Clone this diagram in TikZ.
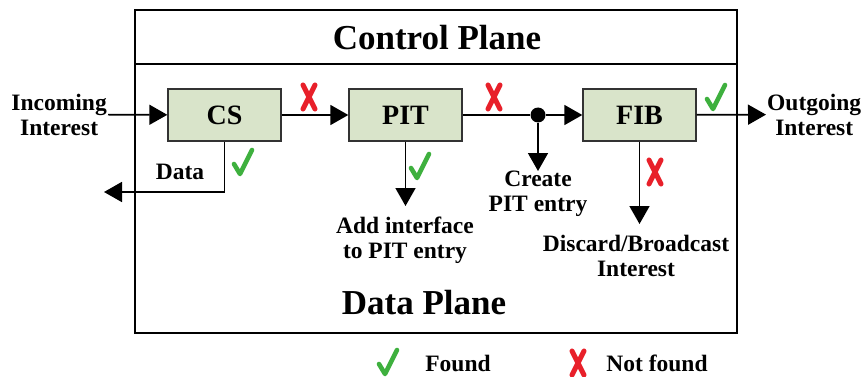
\documentclass[tikz,border=0pt]{standalone}
\usepackage{fontspec}
\setmainfont{Liberation Serif}
\usetikzlibrary{arrows.meta}
\definecolor{boxgreen}{RGB}{217,228,202}
\definecolor{okgreen}{RGB}{62,176,62}
\definecolor{nored}{RGB}{232,32,42}
\tikzset{
  table/.style={draw=black!80, line width=1.4pt, fill=boxgreen, minimum width=113pt, minimum height=52pt, inner sep=0pt, font=\fontsize{28}{30}\selectfont\bfseries},
  lbl/.style={align=center, inner sep=1pt, font=\fontsize{23.5}{25}\selectfont\bfseries},
  plane/.style={inner sep=0pt, font=\fontsize{35}{38}\selectfont\bfseries},
  flow/.style={line width=1.7pt, -{Triangle[length=18pt,width=20pt]}},
  found/.pic={\draw[okgreen, line width=4.6pt, line cap=round, line join=round] (-9,1) -- (-3,11) -- (9,-13);},
  notfound/.pic={\draw[nored, line width=5pt, line cap=round] (-6,-12) .. controls (-1,-2) .. (6,12) (6,-12) .. controls (1,-2) .. (-6,12);}
}
\begin{document}
\begin{tikzpicture}[x=1pt,y=-1pt]
  \useasboundingbox (0,0) rectangle (864,377);
  % planes
  \draw[line width=1.4pt] (135,10) rectangle (737,333);
  \draw[line width=1.4pt] (135,64) -- (737,64);
  \node[plane] (ctrl) at (437,38) {Control Plane};
  \node[plane] (data) at (424,303) {Data Plane};
  % tables
  \node[table] (cs) at (224.5,115) {CS};
  \node[table] (pit) at (405.5,115) {PIT};
  \node[table] (fib) at (639.5,115) {FIB};
  \node[circle, fill=black, inner sep=0pt, minimum size=15pt] (split) at (538,115) {};
  % labels
  \node[lbl, anchor=east] (in) at (108,114.5) {Incoming\\Interest};
  \node[lbl, anchor=west] (out) at (766,114.5) {Outgoing\\Interest};
  \node[lbl] (datalbl) at (180,172) {Data};
  \node[lbl] (add) at (405,240) {Add interface\\to PIT entry};
  \node[lbl] (create) at (538,194) {Create\\PIT entry};
  \node[lbl] (discard) at (636,256) {Discard/Broadcast\\Interest};
  \coordinate (back) at (104,192);
  \coordinate (addtip) at (405.5,206);
  \coordinate (createtip) at (538,171);
  \coordinate (discardtip) at (639.5,224);
  % connectors
  \draw[flow] (in) -- (cs);
  \draw[flow] (cs) -- (pit);
  \draw[line width=1.7pt] (pit) -- (split);
  \draw[flow] (split) -- (fib);
  \draw[flow] (fib) -- (out);
  \draw[flow] (cs.south) |- (back);
  \draw[flow] (pit) -- (addtip);
  \draw[flow] (split) -- (createtip);
  \draw[flow] (fib) -- (discardtip);
  % marks
  \pic at (309,97) {notfound};
  \pic at (494,97) {notfound};
  \pic at (716,98) {found};
  \pic at (243,163) {found};
  \pic at (420,167) {found};
  \pic at (655,172) {notfound};
  % legend
  \pic at (388,363) {found};
  \node[lbl] (foundlbl) at (458,363) {Found};
  \pic at (578,363) {notfound};
  \node[lbl] (notfoundlbl) at (657,363) {Not found};
\end{tikzpicture}
\end{document}
